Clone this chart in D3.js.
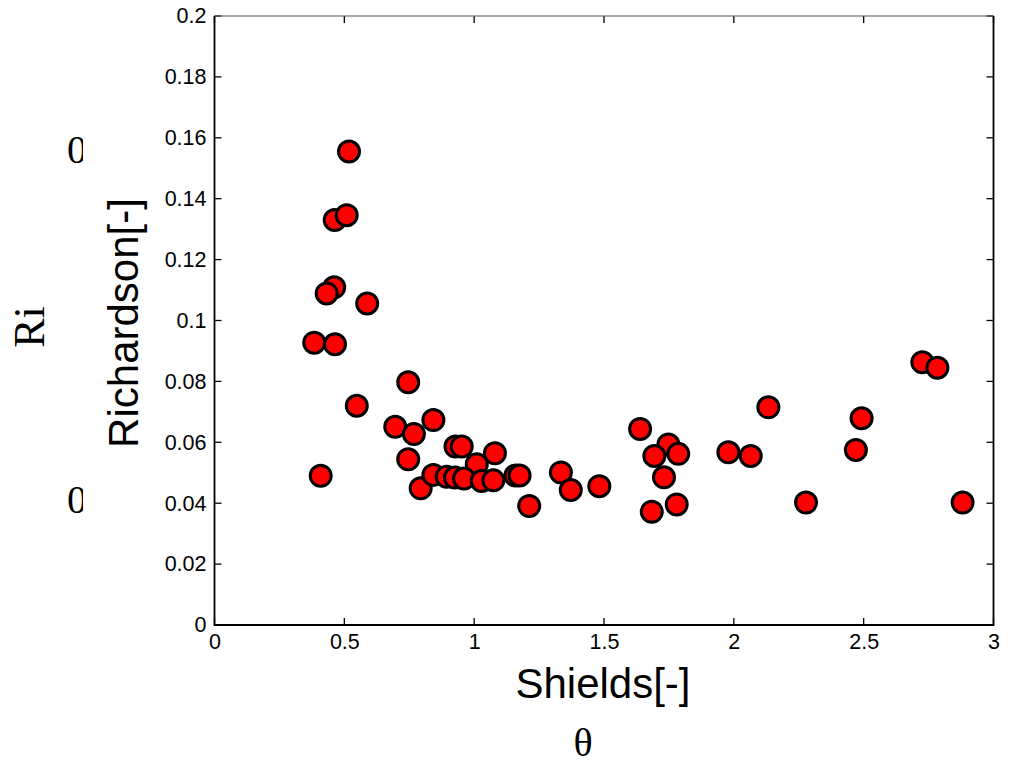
<!DOCTYPE html>
<html>
<head>
<meta charset="utf-8">
<script src="https://cdn.jsdelivr.net/npm/d3@7"></script>
<style>
  html, body { margin: 0; padding: 0; background: #fff; }
  svg { display: block; }
</style>
</head>
<body>
<svg id="chart" width="1009" height="765"></svg>
<script>
// Shields number (x) against bulk Richardson number (y)
const shields = [
  0.518, 0.463, 0.509, 0.461, 0.432, 0.588, 0.384, 0.464, 0.746, 0.548,
  0.696, 0.768, 0.843, 0.746, 0.409, 0.794, 0.843, 0.928, 0.952, 1.080,
  1.010, 0.894, 0.926, 0.961, 1.029, 1.074, 1.159, 1.175, 1.212, 1.334,
  1.372, 1.482, 1.639, 1.748, 1.694, 1.786, 1.731, 1.684, 1.780, 1.979,
  2.065, 2.133, 2.278, 2.470, 2.492, 2.726, 2.784, 2.881
];
const richardson = [
  0.1555, 0.1330, 0.1346, 0.1109, 0.1089, 0.1056, 0.0927, 0.0922, 0.0797, 0.0720,
  0.0651, 0.0627, 0.0673, 0.0544, 0.0490, 0.0449, 0.0493, 0.0586, 0.0586, 0.0564,
  0.0528, 0.0487, 0.0484, 0.0481, 0.0473, 0.0475, 0.0491, 0.0491, 0.0391, 0.0501,
  0.0443, 0.0456, 0.0644, 0.0593, 0.0555, 0.0562, 0.0485, 0.0372, 0.0396, 0.0567,
  0.0555, 0.0715, 0.0402, 0.0575, 0.0679, 0.0863, 0.0845, 0.0402
];
const xTicks = [0, 0.5, 1, 1.5, 2, 2.5, 3];
const yTicks = [0, 0.02, 0.04, 0.06, 0.08, 0.1, 0.12, 0.14, 0.16, 0.18, 0.2];
const xTitle = "Shields[-]";
const yTitle = "Richardson[-]";

const svg = d3.select("#chart");
const plot = { left: 214.5, right: 993.5, top: 16, bottom: 625 };

const x = d3.scaleLinear().domain([0, 3]).range([plot.left, plot.right]);
const y = d3.scaleLinear().domain([0, 0.2]).range([plot.bottom, plot.top]);

const tickLen = 7;
const sansFont = "'Liberation Sans', Arial, sans-serif";
const serifFont = "'Liberation Serif', 'Times New Roman', serif";

// Partially hidden serif digits left of the axis, cut along x = 83
const clip = svg.append("defs").append("clipPath").attr("id", "leftClip");
clip.append("rect").attr("x", 0).attr("y", 0).attr("width", 83).attr("height", 765);

svg.append("g").attr("clip-path", "url(#leftClip)")
  .selectAll("text").data([150, 500]).join("text")
  .attr("x", 67).attr("y", d => d + 13)
  .attr("font-family", serifFont).attr("font-size", 40)
  .attr("fill", "#000").text("0");

svg.append("text")
  .attr("transform", "translate(44,327) rotate(-90)")
  .attr("text-anchor", "middle")
  .attr("font-family", serifFont).attr("font-size", 44)
  .attr("fill", "#000").text("Ri");

svg.append("text")
  .attr("x", 583).attr("y", 756)
  .attr("text-anchor", "middle")
  .attr("font-family", serifFont).attr("font-size", 40)
  .attr("fill", "#000").text("θ");

// Axes: bottom/left with labels, top/right mirrored ticks only
const axB = d3.axisBottom(x).tickValues(xTicks).tickSize(0).tickPadding(9).tickFormat(d3.format("~g"));
const axL = d3.axisLeft(y).tickValues(yTicks).tickSize(0).tickPadding(8).tickFormat(d3.format("~g"));

const gB = svg.append("g").attr("transform", `translate(0,${plot.bottom})`).call(axB);
const gL = svg.append("g").attr("transform", `translate(${plot.left},0)`).call(axL);
[gB, gL].forEach(g => {
  g.select(".domain").remove();
  g.selectAll("text").attr("font-family", sansFont).attr("font-size", 21.5).attr("fill", "#000");
});

// Inward tick marks on all four sides
const ticks = svg.append("g").attr("stroke", "#000").attr("stroke-width", 1.3);
ticks.selectAll(".tb").data(xTicks).join("line")
  .attr("x1", d => x(d)).attr("x2", d => x(d))
  .attr("y1", plot.bottom).attr("y2", plot.bottom - tickLen);
ticks.selectAll(".tt").data(xTicks).join("line")
  .attr("x1", d => x(d)).attr("x2", d => x(d))
  .attr("y1", plot.top).attr("y2", plot.top + tickLen);
ticks.selectAll(".tl").data(yTicks).join("line")
  .attr("x1", plot.left).attr("x2", plot.left + tickLen)
  .attr("y1", d => y(d)).attr("y2", d => y(d));
ticks.selectAll(".tr").data(yTicks).join("line")
  .attr("x1", plot.right).attr("x2", plot.right - tickLen)
  .attr("y1", d => y(d)).attr("y2", d => y(d));

// Frame: thin grey top edge, black on the other three sides
const frame = svg.append("g").attr("fill", "none");
frame.append("line")
  .attr("x1", plot.left).attr("x2", plot.right).attr("y1", plot.top).attr("y2", plot.top)
  .attr("stroke", "#555").attr("stroke-width", 1.2);
frame.append("path")
  .attr("d", `M${plot.left},${plot.top}V${plot.bottom}H${plot.right}V${plot.top}`)
  .attr("stroke", "#000").attr("stroke-width", 1.8);

// Axis titles
svg.append("text")
  .attr("x", 603).attr("y", 698)
  .attr("text-anchor", "middle")
  .attr("font-family", sansFont).attr("font-size", 42)
  .attr("fill", "#000").text(xTitle);

svg.append("text")
  .attr("transform", "translate(138,323) rotate(-90)")
  .attr("text-anchor", "middle")
  .attr("font-family", sansFont).attr("font-size", 42)
  .attr("fill", "#000").text(yTitle);

// Markers
const pts = shields.map((s, i) => ({ s, r: richardson[i] }));
svg.append("g").selectAll("circle").data(pts).join("circle")
  .attr("cx", d => x(d.s)).attr("cy", d => y(d.r))
  .attr("r", 10.5)
  .attr("fill", "#ff0000")
  .attr("stroke", "#000").attr("stroke-width", 3);
</script>
</body>
</html>
